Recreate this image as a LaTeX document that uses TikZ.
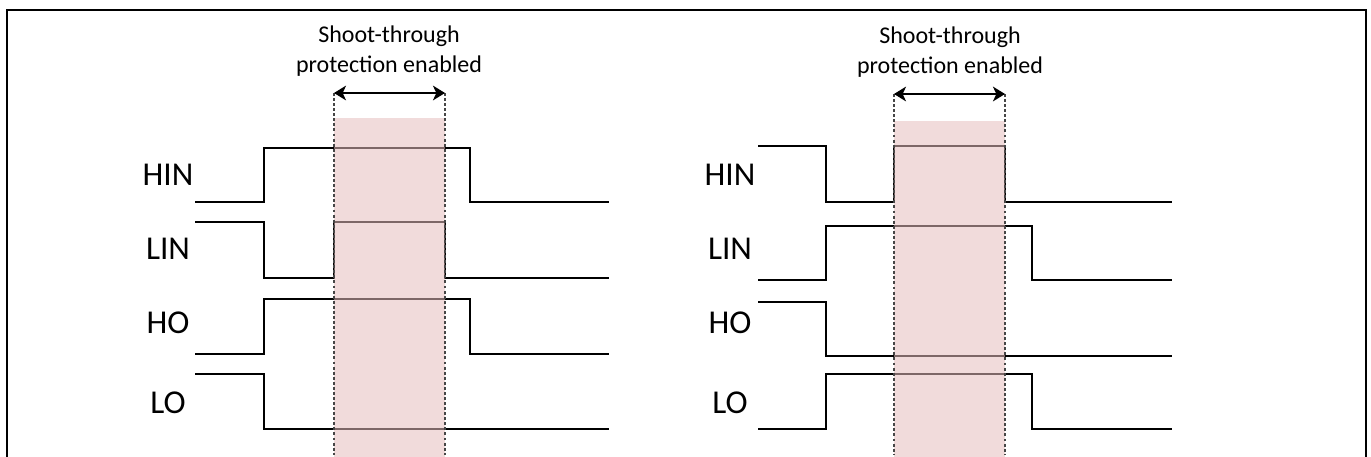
\documentclass[tikz,border=0pt]{standalone}
\usepackage{fontspec}
\setmainfont{Carlito}
\usepackage{xcolor}
\usepackage{tikz}
\usetikzlibrary{arrows.meta, positioning, calc}
\definecolor{shadered}{RGB}{229,189,189}
\definecolor{dashgray}{RGB}{70,70,70}
\tikzstyle{signal} = [line width=1.1pt, black]
\tikzstyle{siglabel} = [font=\fontsize{25}{30}\selectfont, inner sep=0pt]
\tikzstyle{note} = [font=\fontsize{18}{22.5}\selectfont, align=center, inner sep=0pt]
\tikzstyle{window} = [fill=shadered, fill opacity=0.55, draw=none]
\tikzstyle{guide} = [dashgray, line width=0.8pt, dash pattern=on 2.2pt off 1.6pt]
\tikzstyle{span} = [line width=1.5pt, {Stealth[length=9pt,width=11pt,inset=2.5pt]}-{Stealth[length=9pt,width=11pt,inset=2.5pt]}]

\begin{document}
\begin{tikzpicture}[x=0.75pt, y=-0.75pt]
      \useasboundingbox (0,0) rectangle (1371,457);
      % Outer frame
      \draw [line width=1.6pt] (7,457) -- (7,10) -- (1366,10) -- (1366,457);

      % Signal labels
      \node [siglabel] (hinA) at (168,175) {HIN};
      \node [siglabel] (linA) at (168,249) {LIN};
      \node [siglabel] (hoA) at (168,323) {HO};
      \node [siglabel] (loA) at (168,403) {LO};
      \node [siglabel] (hinB) at (730,175) {HIN};
      \node [siglabel] (linB) at (730,249) {LIN};
      \node [siglabel] (hoB) at (730,323) {HO};
      \node [siglabel] (loB) at (730,403) {LO};

      % Waveforms, left case
      \draw [signal] (195,202) -| (264,148) -| (470,202) -- (609,202);
      \draw [signal] (195,222) -| (264,278) -| (334,222) -| (445,278) -- (609,278);
      \draw [signal] (195,354) -| (264,299) -| (470,354) -- (609,354);
      \draw [signal] (195,374) -| (264,429) -- (609,429);

      % Waveforms, right case
      \draw [signal] (758,146) -| (826,202) -| (894,146) -| (1005,202) -- (1172,202);
      \draw [signal] (758,280) -| (826,226) -| (1032,280) -- (1172,280);
      \draw [signal] (758,302) -| (826,356) -- (1172,356);
      \draw [signal] (758,429) -| (826,374) -| (1032,429) -- (1172,429);

      % Protection windows
      \fill [window] (334,118) rectangle (445,457);
      \fill [window] (894,121) rectangle (1005,457);

      % Window edges
      \coordinate (startA) at (334,93);
      \coordinate (endA) at (445,93);
      \coordinate (startB) at (894,94);
      \coordinate (endB) at (1005,94);
      \draw [guide] (startA) -- (334,455);
      \draw [guide] (endA) -- (445,455);
      \draw [guide] (startB) -- (894,455);
      \draw [guide] (endB) -- (1005,455);
      \draw [span] (startA) -- (endA);
      \draw [span] (startB) -- (endB);

      % Notes above the windows
      \node [note] (noteA) at (389,51) {Shoot-through\\protection enabled};
      \node [note] (noteB) at (950,52) {Shoot-through\\protection enabled};
\end{tikzpicture}
\end{document}
